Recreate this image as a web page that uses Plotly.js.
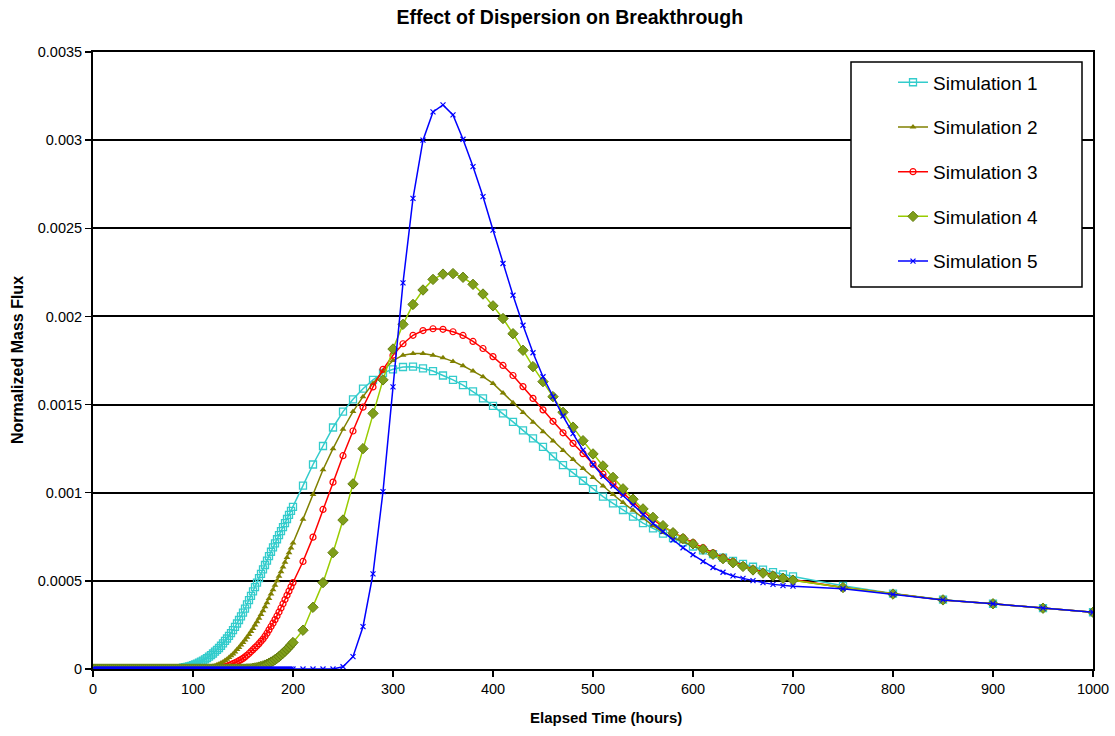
<!DOCTYPE html>
<html>
<head>
<meta charset="utf-8">
<script src="https://cdn.plot.ly/plotly-3.0.1.min.js"></script>
<style>html,body{margin:0;padding:0;background:#fff;}#chart{width:1115px;height:736px;}</style>
</head>
<body>
<div id="chart"></div>
<script>
// Elapsed time (hours): dense 0-200 step 2, then 210-700 step 10, then 750-1000 step 50
var hoursDense = [
  0,2,4,6,8,10,12,14,16,18,
  20,22,24,26,28,30,32,34,36,38,
  40,42,44,46,48,50,52,54,56,58,
  60,62,64,66,68,70,72,74,76,78,
  80,82,84,86,88,90,92,94,96,98,
  100,102,104,106,108,110,112,114,116,118,
  120,122,124,126,128,130,132,134,136,138,
  140,142,144,146,148,150,152,154,156,158,
  160,162,164,166,168,170,172,174,176,178,
  180,182,184,186,188,190,192,194,196,198,
  200];
var hoursMid = [210,220,230,240,250,260,270,280,290,300,
  310,320,330,340,350,360,370,380,390,400,
  410,420,430,440,450,460,470,480,490,500,
  510,520,530,540,550,560,570,580,590,600,
  610,620,630,640,650,660,670,680,690,700];
var hoursTail = [750,800,850,900,950,1000];

var seriesNames = ["Simulation 1","Simulation 2","Simulation 3","Simulation 4","Simulation 5"];

// Simulation 1
var sim1Dense = [
  0,0,0,0,0,0,0,0,0,0,
  0,0,0,0,0,0,0,0,0,0,
  0,0,0,0,0,0,0,0,0,0,
  0,0,0,0,0,0,0,0,0,0,
  0,0.000001,0.000002,0.000003,0.000005,0.000007,0.00001,0.000012,0.000015,0.000018,
  0.000022,0.000026,0.000031,0.000036,0.000042,0.000048,0.000055,0.000062,0.00007,0.000079,
  0.000088,0.000098,0.000108,0.000119,0.000132,0.000145,0.000159,0.000173,0.000188,0.000204,
  0.00022,0.000239,0.000258,0.000278,0.000299,0.00032,0.000343,0.000367,0.000391,0.000415,
  0.00044,0.000465,0.00049,0.000515,0.00054,0.000565,0.00059,0.000615,0.00064,0.000665,
  0.00069,0.000713,0.000736,0.000759,0.000782,0.000805,0.000828,0.000851,0.000874,0.000897,
  0.00092];
var sim1Mid = [
  0.00104,0.00116,0.001265,0.00137,0.00146,0.00153,0.00159,0.00164,0.00168,0.0017,
  0.001713,0.001715,0.001705,0.00169,0.001665,0.00164,0.00161,0.001575,0.001535,0.001493,
  0.00145,0.001402,0.001354,0.001308,0.00126,0.001206,0.001156,0.001113,0.001068,0.00102,
  0.000978,0.00094,0.000902,0.000864,0.000828,0.000798,0.000768,0.000742,0.000718,0.000695,
  0.000673,0.000652,0.000632,0.000613,0.000596,0.00058,0.000564,0.00055,0.000537,0.000525];
var sim1Tail = [0.000472,0.000428,0.000393,0.00037,0.000345,0.000322];

// Simulation 2
var sim2Dense = [
  0,0,0,0,0,0,0,0,0,0,
  0,0,0,0,0,0,0,0,0,0,
  0,0,0,0,0,0,0,0,0,0,
  0,0,0,0,0,0,0,0,0,0,
  0,0,0,0,0,0,0,0,0,0,
  0,0,0,0,0,0.000002,0.000003,0.000005,0.000008,0.000011,
  0.000015,0.000019,0.000024,0.000029,0.000034,0.00004,0.000048,0.000056,0.000065,0.000075,
  0.000085,0.000097,0.00011,0.000122,0.000136,0.00015,0.000165,0.00018,0.000196,0.000213,
  0.00023,0.000249,0.000268,0.000288,0.000309,0.00033,0.000353,0.000376,0.0004,0.000425,
  0.00045,0.000475,0.0005,0.000526,0.000552,0.000578,0.000605,0.000632,0.00066,0.000687,
  0.000715];
var sim2Mid = [
  0.00085,0.00099,0.00113,0.00125,0.00136,0.00146,0.001545,0.00162,0.00169,0.00175,
  0.00178,0.00179,0.00179,0.00178,0.001765,0.001745,0.00172,0.00169,0.001658,0.00162,
  0.001566,0.00151,0.001455,0.0014,0.001346,0.001293,0.00124,0.001188,0.001137,0.001087,
  0.001038,0.00099,0.000944,0.0009,0.000856,0.000813,0.000775,0.000745,0.000722,0.0007,
  0.000675,0.000648,0.000623,0.0006,0.000579,0.00056,0.000542,0.000526,0.000513,0.000503];
var sim2Tail = [0.000462,0.000425,0.000392,0.00037,0.000345,0.000322];

// Simulation 3
var sim3Dense = [
  0,0,0,0,0,0,0,0,0,0,
  0,0,0,0,0,0,0,0,0,0,
  0,0,0,0,0,0,0,0,0,0,
  0,0,0,0,0,0,0,0,0,0,
  0,0,0,0,0,0,0,0,0,0,
  0,0,0,0,0,0,0,0,0,0,
  0,0,0.000001,0.000002,0.000005,0.000008,0.000012,0.000016,0.00002,0.000025,
  0.00003,0.000035,0.000041,0.000047,0.000053,0.00006,0.000069,0.000078,0.000088,0.000099,
  0.00011,0.000121,0.000132,0.000144,0.000157,0.00017,0.000186,0.000203,0.000222,0.000241,
  0.00026,0.00028,0.000301,0.000323,0.000346,0.00037,0.000394,0.000418,0.000442,0.000466,
  0.00049];
var sim3Mid = [
  0.00061,0.000748,0.000905,0.00106,0.00121,0.00135,0.001485,0.0016,0.0017,0.00178,
  0.001845,0.001893,0.00192,0.00193,0.001927,0.001913,0.001892,0.001858,0.001818,0.001772,
  0.001722,0.001665,0.001602,0.001535,0.00147,0.001405,0.00134,0.00128,0.001222,0.001162,
  0.001105,0.001052,0.000999,0.000948,0.000895,0.000848,0.000808,0.000775,0.000745,0.000717,
  0.000688,0.000659,0.000633,0.000609,0.000587,0.000567,0.000549,0.000533,0.000519,0.000508];
var sim3Tail = [0.000462,0.000425,0.000392,0.00037,0.000345,0.000322];

// Simulation 4
var sim4Dense = [
  0,0,0,0,0,0,0,0,0,0,
  0,0,0,0,0,0,0,0,0,0,
  0,0,0,0,0,0,0,0,0,0,
  0,0,0,0,0,0,0,0,0,0,
  0,0,0,0,0,0,0,0,0,0,
  0,0,0,0,0,0,0,0,0,0,
  0,0,0,0,0,0,0,0,0,0,
  0,0,0,0,0,0,0,0.000001,0.000001,0.000002,
  0.000004,0.000006,0.000008,0.000011,0.000014,0.000018,0.000022,0.000027,0.000033,0.000039,
  0.000045,0.000053,0.000061,0.00007,0.00008,0.00009,0.000101,0.000113,0.000124,0.000137,
  0.00015];
var sim4Mid = [
  0.00022,0.00035,0.00049,0.00066,0.000845,0.00105,0.00125,0.00145,0.00164,0.001815,
  0.001955,0.002068,0.00215,0.00221,0.00224,0.002243,0.002222,0.002182,0.002127,0.00206,
  0.001988,0.001902,0.001808,0.001715,0.00163,0.001545,0.001456,0.001372,0.001295,0.00122,
  0.001152,0.001087,0.001022,0.000963,0.000908,0.00086,0.000813,0.000773,0.00074,0.00071,
  0.00068,0.000651,0.000626,0.000603,0.000582,0.000562,0.000544,0.000528,0.000515,0.000504];
var sim4Tail = [0.000462,0.000425,0.000392,0.00037,0.000345,0.000322];

// Simulation 5
var sim5Dense = [
  0,0,0,0,0,0,0,0,0,0,
  0,0,0,0,0,0,0,0,0,0,
  0,0,0,0,0,0,0,0,0,0,
  0,0,0,0,0,0,0,0,0,0,
  0,0,0,0,0,0,0,0,0,0,
  0,0,0,0,0,0,0,0,0,0,
  0,0,0,0,0,0,0,0,0,0,
  0,0,0,0,0,0,0,0,0,0,
  0,0,0,0,0,0,0,0,0,0,
  0,0,0,0,0,0,0,0,0,0,
  0];
var sim5Mid = [
  0,0,0,0,0.000013,0.00007,0.00024,0.00054,0.001006,0.0016,
  0.00219,0.00267,0.003,0.00316,0.0032,0.003143,0.003005,0.00285,0.00268,0.00249,
  0.0023,0.00212,0.00195,0.001794,0.001658,0.001545,0.001435,0.001335,0.001242,0.00116,
  0.001093,0.001038,0.000985,0.00093,0.000876,0.000826,0.000779,0.000732,0.000688,0.000648,
  0.00061,0.000576,0.000549,0.000528,0.000514,0.000501,0.00049,0.00048,0.000473,0.00047];
var sim5Tail = [0.000455,0.000423,0.000392,0.00037,0.000345,0.000322];

var yTickVals = [0,0.0005,0.001,0.0015,0.002,0.0025,0.003,0.0035];
var yTickText = ["0","0.0005","0.001","0.0015","0.002","0.0025","0.003","0.0035"];
var xTickVals = [0,100,200,300,400,500,600,700,800,900,1000];

var hours = hoursDense.concat(hoursMid, hoursTail);
var values = [
  sim1Dense.concat(sim1Mid, sim1Tail),
  sim2Dense.concat(sim2Mid, sim2Tail),
  sim3Dense.concat(sim3Mid, sim3Tail),
  sim4Dense.concat(sim4Mid, sim4Tail),
  sim5Dense.concat(sim5Mid, sim5Tail)
];

var styles = [
  {line:{color:'#33CCCC',width:1.5}, marker:{symbol:'square-open',size:7,color:'#33CCCC',line:{width:1.3,color:'#33CCCC'}}},
  {line:{color:'#808000',width:1.5}, marker:{symbol:'triangle-up',size:6,color:'#808000',line:{width:0}}},
  {line:{color:'#FF0000',width:1.5}, marker:{symbol:'circle-open',size:6,color:'#FF0000',line:{width:1.2,color:'#FF0000'}}},
  {line:{color:'#99CC00',width:1.5}, marker:{symbol:'diamond',size:8,color:'#7F9F1A',line:{width:1,color:'#667F10'}}},
  {line:{color:'#0000FF',width:1.5}, marker:{symbol:'x-thin-open',size:5,color:'#0000FF',line:{width:1.2,color:'#0000FF'}}}
];

var traces = values.map(function(v,i){
  return {
    type:'scatter', mode:'lines+markers', name:seriesNames[i],
    x:hours, y:v, legendgroup:'g'+i,
    line:styles[i].line, marker:styles[i].marker
  };
});

var fontFam = '"Liberation Sans", Arial, sans-serif';

var layout = {
  width:1115, height:736,
  margin:{l:93, r:22, t:52, b:67, autoexpand:false},
  paper_bgcolor:'#ffffff', plot_bgcolor:'#ffffff',
  font:{family:fontFam, color:'#000000', size:14},
  title:{text:'<b>Effect of Dispersion on Breakthrough</b>', x:0.511, xanchor:'center', y:0.977, yanchor:'middle',
         font:{family:fontFam, size:19.5, color:'#000'}},
  showlegend:true,
  legend:{x:0.800, xanchor:'left', y:0.9815, yanchor:'top', bgcolor:'rgba(0,0,0,0)', borderwidth:0,
          font:{family:fontFam, size:19, color:'#000'}, tracegroupgap:17, itemwidth:30},
  xaxis:{range:[0,1000], tickvals:xTickVals, ticks:'outside', ticklen:6, tickwidth:1.5, tickcolor:'#000',
         showline:true, linecolor:'#000', linewidth:2, mirror:true, showgrid:false, zeroline:false,
         tickfont:{family:fontFam, size:14.5, color:'#000'}},
  yaxis:{range:[0,0.0035], tickvals:yTickVals, ticktext:yTickText, ticks:'outside', ticklen:6, tickwidth:1.5, tickcolor:'#000',
         showline:true, linecolor:'#000', linewidth:2, mirror:true, showgrid:true, gridcolor:'#000', gridwidth:2, zeroline:false,
         tickfont:{family:fontFam, size:14.5, color:'#000'}},
  annotations:[
    {text:'<b>Elapsed Time (hours)</b>', xref:'paper', yref:'paper', x:0.513, y:-0.0794, xanchor:'center', yanchor:'middle',
     showarrow:false, font:{family:fontFam, size:15, color:'#000'}},
    {text:'<b>Normalized Mass Flux</b>', xref:'paper', yref:'paper', x:-0.0755, y:0.5, xanchor:'center', yanchor:'middle',
     textangle:-90, showarrow:false, font:{family:fontFam, size:16, color:'#000'}}
  ],
  shapes:[{type:'rect', xref:'paper', yref:'paper', x0:0.758, x1:0.989, y0:0.619, y1:0.9838,
           fillcolor:'#ffffff', line:{color:'#000', width:1.5}, layer:'above'}]
};

Plotly.newPlot('chart', traces, layout, {displayModeBar:false, staticPlot:true});
</script>
</body>
</html>
